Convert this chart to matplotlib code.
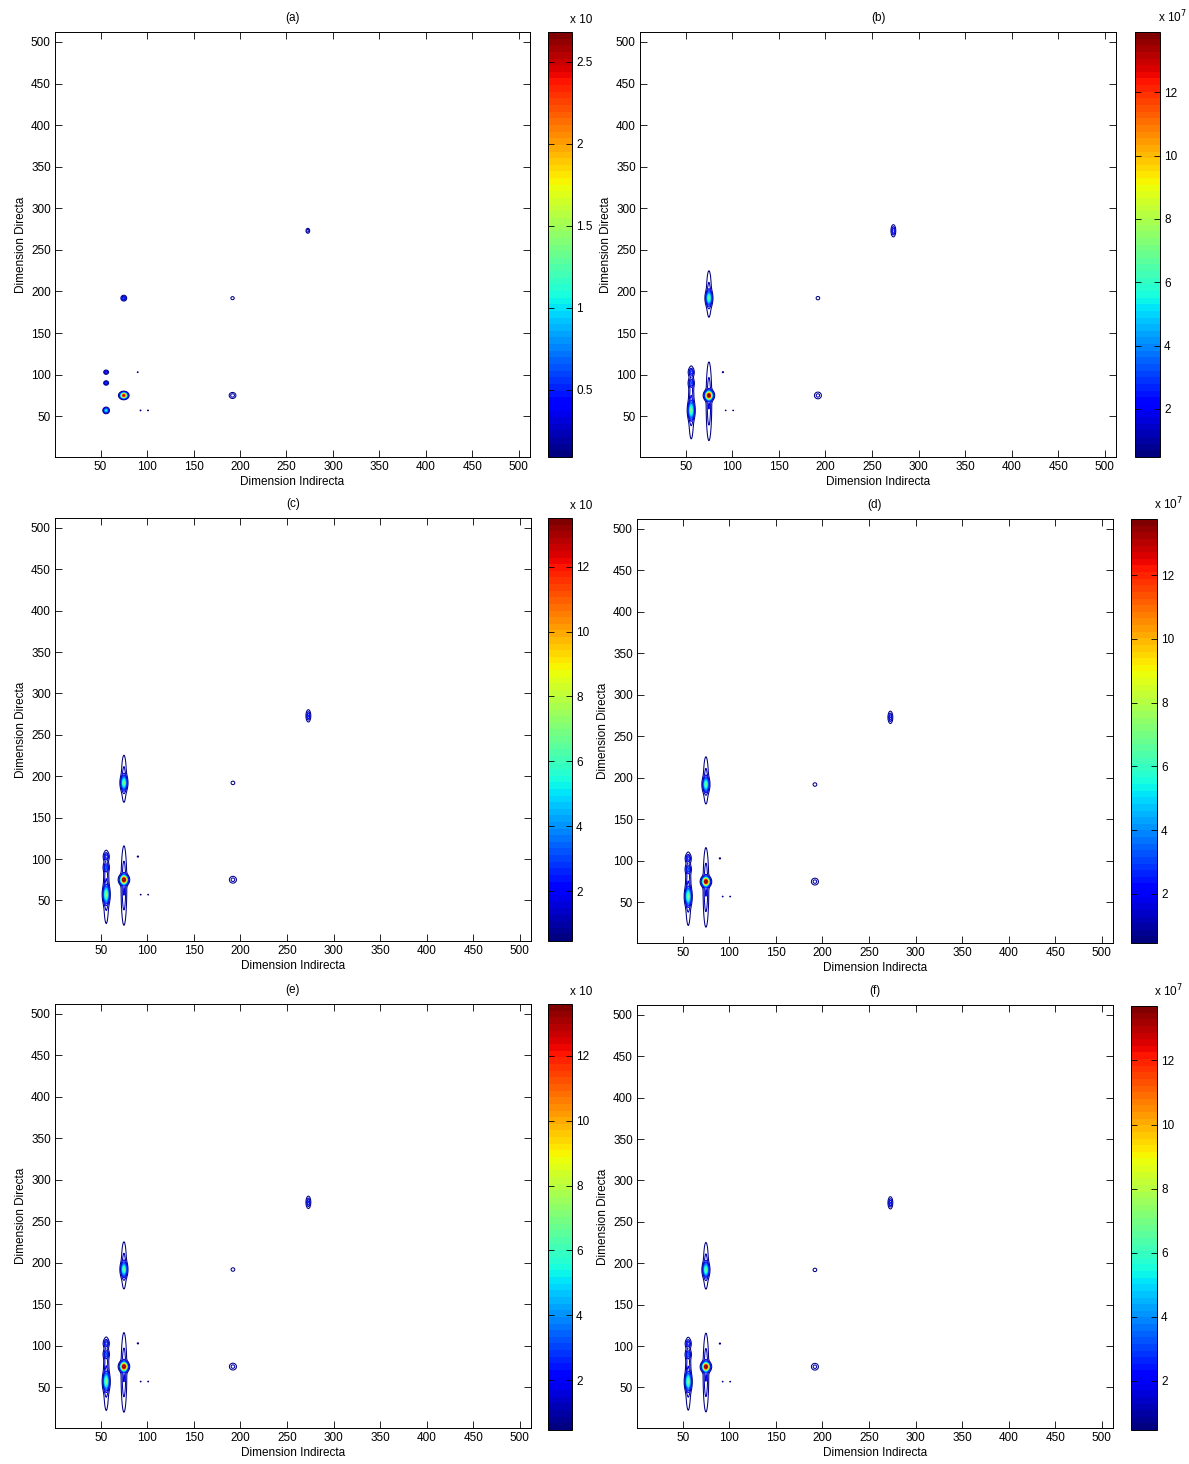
import numpy as np
import matplotlib
matplotlib.use('Agg')
import matplotlib.pyplot as plt
from matplotlib.colors import Normalize
from matplotlib.cm import ScalarMappable

plt.rcParams['font.family'] = ['Liberation Sans', 'DejaVu Sans']

panel_labels = ['(a)', '(b)', '(c)', '(d)', '(e)', '(f)']
cbar_lo = [0.09, 0.48, 0.46, 0.46, 0.46, 0.47]
cbar_hi = [2.68, 13.9, 13.5, 13.76, 13.6, 13.7]
cbar_ticks_a = [0.5, 1, 1.5, 2, 2.5]
cbar_ticks_bf = [2, 4, 6, 8, 10, 12]
cbar_exp_text = ['x 10', 'x 10$^7$', 'x 10', 'x 10$^7$', 'x 10', 'x 10$^7$']
axis_ticks = [50, 100, 150, 200, 250, 300, 350, 400, 450, 500]

# Peaks of panel (a): indirect position, direct position, amplitude, widths
peak_x_a = [75, 56, 56, 56, 75, 192, 192, 273, 90, 93, 101]
peak_y_a = [75, 57, 90, 103, 192, 75, 192, 273, 103, 57, 57]
peak_amp_a = [2.6, 1.1, 0.55, 0.5, 0.6, 0.35, 0.15, 0.35, 0.12, 0.12, 0.12]
peak_wx_a = [2.2, 1.6, 1.4, 1.4, 1.6, 2.2, 1.8, 1.2, 0.7, 0.7, 0.7]
peak_wy_a = [2.0, 1.8, 1.4, 1.4, 1.8, 2.2, 1.8, 1.8, 0.7, 0.7, 0.7]

# Peaks of panels (b)-(f)
peak_x_bf = [75, 75, 56, 56, 56, 56, 75, 75, 273, 192, 192, 90, 93, 101]
peak_y_bf = [75, 68, 57, 65, 90, 103, 192, 197, 273, 75, 192, 103, 57, 57]
peak_amp_bf = [13.0, 2.0, 5.5, 2.0, 2.2, 2.4, 5.5, 1.6, 2.6, 1.6, 0.85, 0.7, 0.6, 0.6]
peak_wx_bf = [2.4, 1.8, 1.9, 1.7, 1.7, 1.7, 1.9, 1.7, 1.4, 2.4, 1.8, 0.8, 0.7, 0.7]
peak_wy_bf = [3.0, 28, 6, 25, 3, 3, 5, 18, 4, 2.6, 1.9, 0.8, 0.7, 0.7]

# layout in pixels: (left, right, top, bottom) for axes and colorbars
W, H = 1189, 1464
ax_px = [(55, 530, 32, 457), (640, 1116, 32, 457),
         (55, 531, 518, 941), (637, 1113, 519, 943),
         (55, 531, 1004, 1428), (637, 1113, 1005, 1428)]
cb_px = [(548, 572, 32, 457), (1135, 1160, 32, 457),
         (548, 572, 518, 941), (1131, 1157, 519, 943),
         (548, 572, 1004, 1430), (1131, 1157, 1006, 1430)]


def frac(box):
    l, r, t, b = box
    return [l / W, 1 - b / H, (r - l) / W, (b - t) / H]


fig = plt.figure(figsize=(W / 100, H / 100), dpi=100)
cmap = plt.get_cmap('jet', 64)

g = np.arange(1, 512.01, 0.5)
X, Y = np.meshgrid(g, g)

for i in range(6):
    if i == 0:
        px, py, pa, wx, wy = peak_x_a, peak_y_a, peak_amp_a, peak_wx_a, peak_wy_a
        cticks = cbar_ticks_a
    else:
        px, py, pa, wx, wy = peak_x_bf, peak_y_bf, peak_amp_bf, peak_wx_bf, peak_wy_bf
        cticks = cbar_ticks_bf
    Z = np.zeros_like(X)
    for cx, cy, a, sx, sy in zip(px, py, pa, wx, wy):
        Z += a * np.exp(-0.5 * (((X - cx) / sx) ** 2 + ((Y - cy) / sy) ** 2))
    lo, hi = cbar_lo[i], cbar_hi[i]
    norm = Normalize(lo, hi)
    levels = np.linspace(lo, hi, 20)

    ax = fig.add_axes(frac(ax_px[i]))
    ax.contour(X, Y, Z, levels=levels, cmap=cmap, norm=norm, linewidths=0.75)
    ax.set_xlim(1, 512)
    ax.set_ylim(1, 512)
    ax.set_xticks(axis_ticks)
    ax.set_yticks(axis_ticks)
    ax.tick_params(direction='in', top=True, right=True, length=5, width=0.6,
                   labelsize=8.5, pad=3)
    for s in ax.spines.values():
        s.set_linewidth(0.7)
    ax.set_xlabel('Dimension Indirecta', fontsize=8.5, labelpad=2)
    ax.set_ylabel('Dimension Directa', fontsize=8.5, labelpad=3)
    ax.set_title(panel_labels[i], fontsize=8.5, pad=8)

    cax = fig.add_axes(frac(cb_px[i]))
    sm = ScalarMappable(norm=norm, cmap=cmap)
    cb = fig.colorbar(sm, cax=cax)
    cb.set_ticks(cticks)
    cb.ax.set_yticklabels([('%g' % t) for t in cticks])
    cb.ax.tick_params(direction='in', left=True, right=True, length=4, width=0.6,
                      labelsize=8.5, pad=3)
    cb.outline.set_linewidth(0.7)
    cax.text(0.9, 1.015, cbar_exp_text[i], transform=cax.transAxes,
             ha='left', va='bottom', fontsize=8.5)

fig.savefig('out.png', dpi=100)
